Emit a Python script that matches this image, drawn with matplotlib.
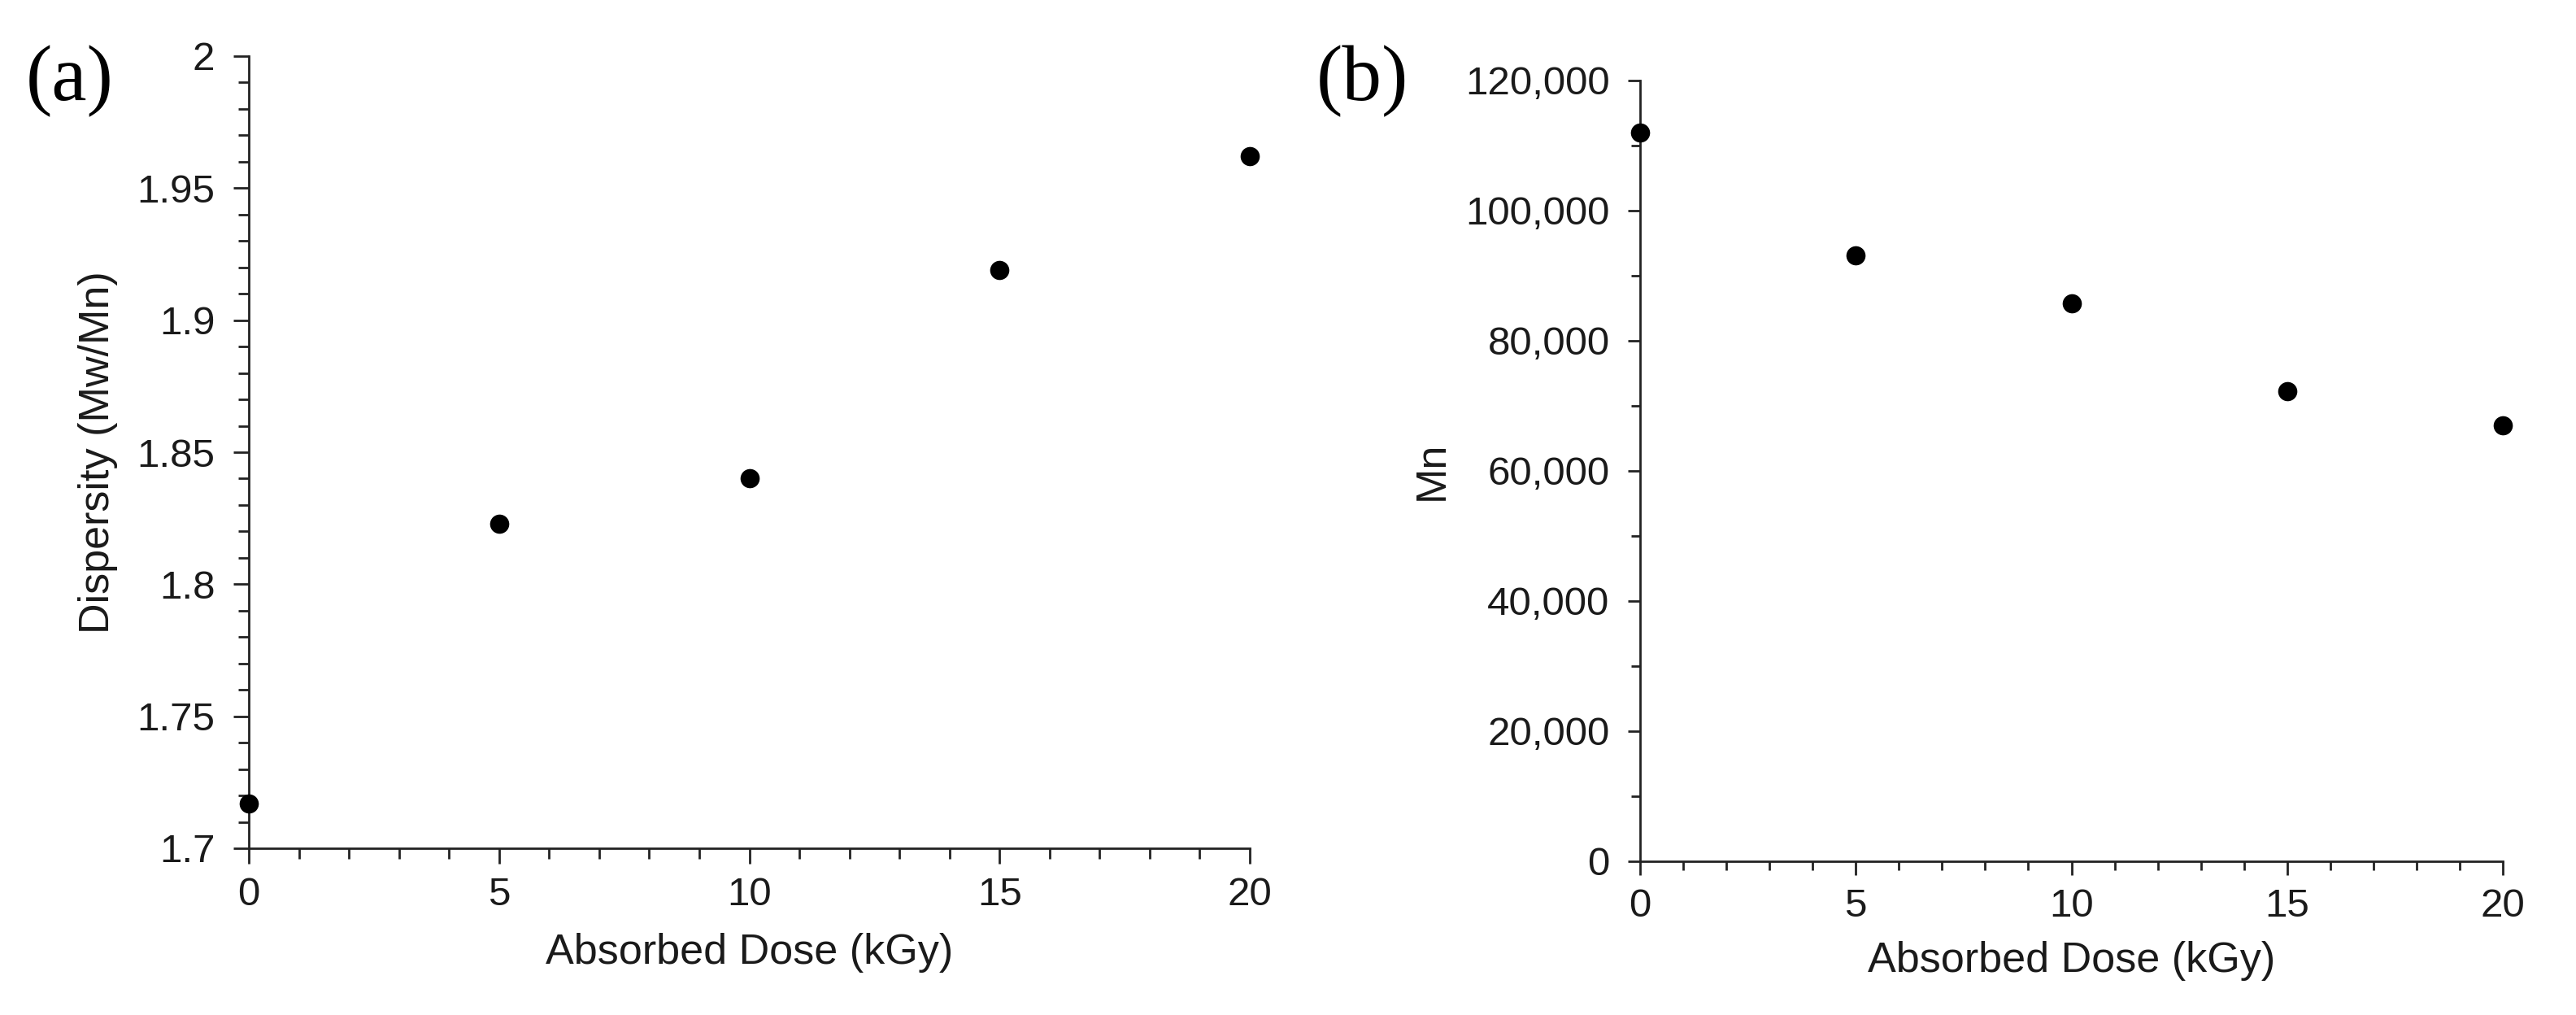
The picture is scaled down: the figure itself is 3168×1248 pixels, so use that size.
import matplotlib
matplotlib.use("Agg")
import matplotlib.pyplot as plt
from matplotlib.ticker import MultipleLocator, FuncFormatter

# Data
dose = [0, 5, 10, 15, 20]
dispersity = [1.717, 1.823, 1.840, 1.919, 1.962]
mn = [112000, 93100, 85700, 72300, 67000]

plt.rcParams['font.family'] = ['Liberation Sans', 'DejaVu Sans']
TXT = '#1a1a1a'

fig = plt.figure(figsize=(31.68, 12.48), dpi=100)

ax1 = fig.add_axes([306/3168, 1 - 1043/1248, 1231/3168, 974/1248])
ax2 = fig.add_axes([2017/3168, 1 - 1059/1248, 1061/3168, 960/1248])

FS = 35.5

def style(ax, major_len, minor_len, ypad):
    for s in ['top', 'right']:
        ax.spines[s].set_visible(False)
    for s in ['left', 'bottom']:
        ax.spines[s].set_linewidth(2.0)
        ax.spines[s].set_color('#222222')
    ax.tick_params(which='major', direction='out', length=major_len, width=2.0,
                   color='#222222', labelsize=FS, labelcolor=TXT)
    ax.tick_params(which='minor', direction='out', length=minor_len, width=2.0,
                   color='#222222')
    ax.tick_params(axis='y', which='major', pad=ypad)
    ax.tick_params(axis='x', which='major', pad=11)

# Panel (a)
ax1.scatter(dose, dispersity, s=17**2, color='black', zorder=5, clip_on=False, linewidths=0)
ax1.set_xlim(0, 20)
ax1.set_ylim(1.7, 2.0)
ax1.xaxis.set_major_locator(MultipleLocator(5))
ax1.xaxis.set_minor_locator(MultipleLocator(1))
ax1.yaxis.set_major_locator(MultipleLocator(0.05))
ax1.yaxis.set_minor_locator(MultipleLocator(0.01))
ax1.yaxis.set_major_formatter(FuncFormatter(lambda v, p: '%g' % round(v, 2)))
style(ax1, 14, 9.5, 16)
ax1.set_xlabel('Absorbed Dose (kGy)', fontsize=37.5, color=TXT)
ax1.set_ylabel('Dispersity (Mw/Mn)', fontsize=37.5, color=TXT)
ax1.xaxis.set_label_coords(0.5, -0.107)
ax1.yaxis.set_label_coords(-0.131, 0.5)

# Panel (b)
ax2.scatter(dose, mn, s=17**2, color='black', zorder=5, clip_on=False, linewidths=0)
ax2.set_xlim(0, 20)
ax2.set_ylim(0, 120000)
ax2.xaxis.set_major_locator(MultipleLocator(5))
ax2.xaxis.set_minor_locator(MultipleLocator(1))
ax2.yaxis.set_major_locator(MultipleLocator(20000))
ax2.yaxis.set_minor_locator(MultipleLocator(10000))
ax2.yaxis.set_major_formatter(FuncFormatter(lambda v, p: '{:,.0f}'.format(v)))
style(ax2, 11, 8, 16)
ax2.tick_params(axis='x', which='major', length=12.5)
ax2.set_xlabel('Absorbed Dose (kGy)', fontsize=37.5, color=TXT)
ax2.set_ylabel('Mn', fontsize=37.5, color=TXT)
ax2.xaxis.set_label_coords(0.5, -0.102)
ax2.yaxis.set_label_coords(-0.218, 0.5)

# Panel letters
fig.text(86/3168, 1 - 100/1248, '(a)', fontsize=70, family=['Liberation Serif', 'DejaVu Serif'],
         ha='center', va='center', color='black')
fig.text(1675/3168, 1 - 100/1248, '(b)', fontsize=70, family=['Liberation Serif', 'DejaVu Serif'],
         ha='center', va='center', color='black')

fig.savefig('out.png', dpi=100, facecolor='white')
